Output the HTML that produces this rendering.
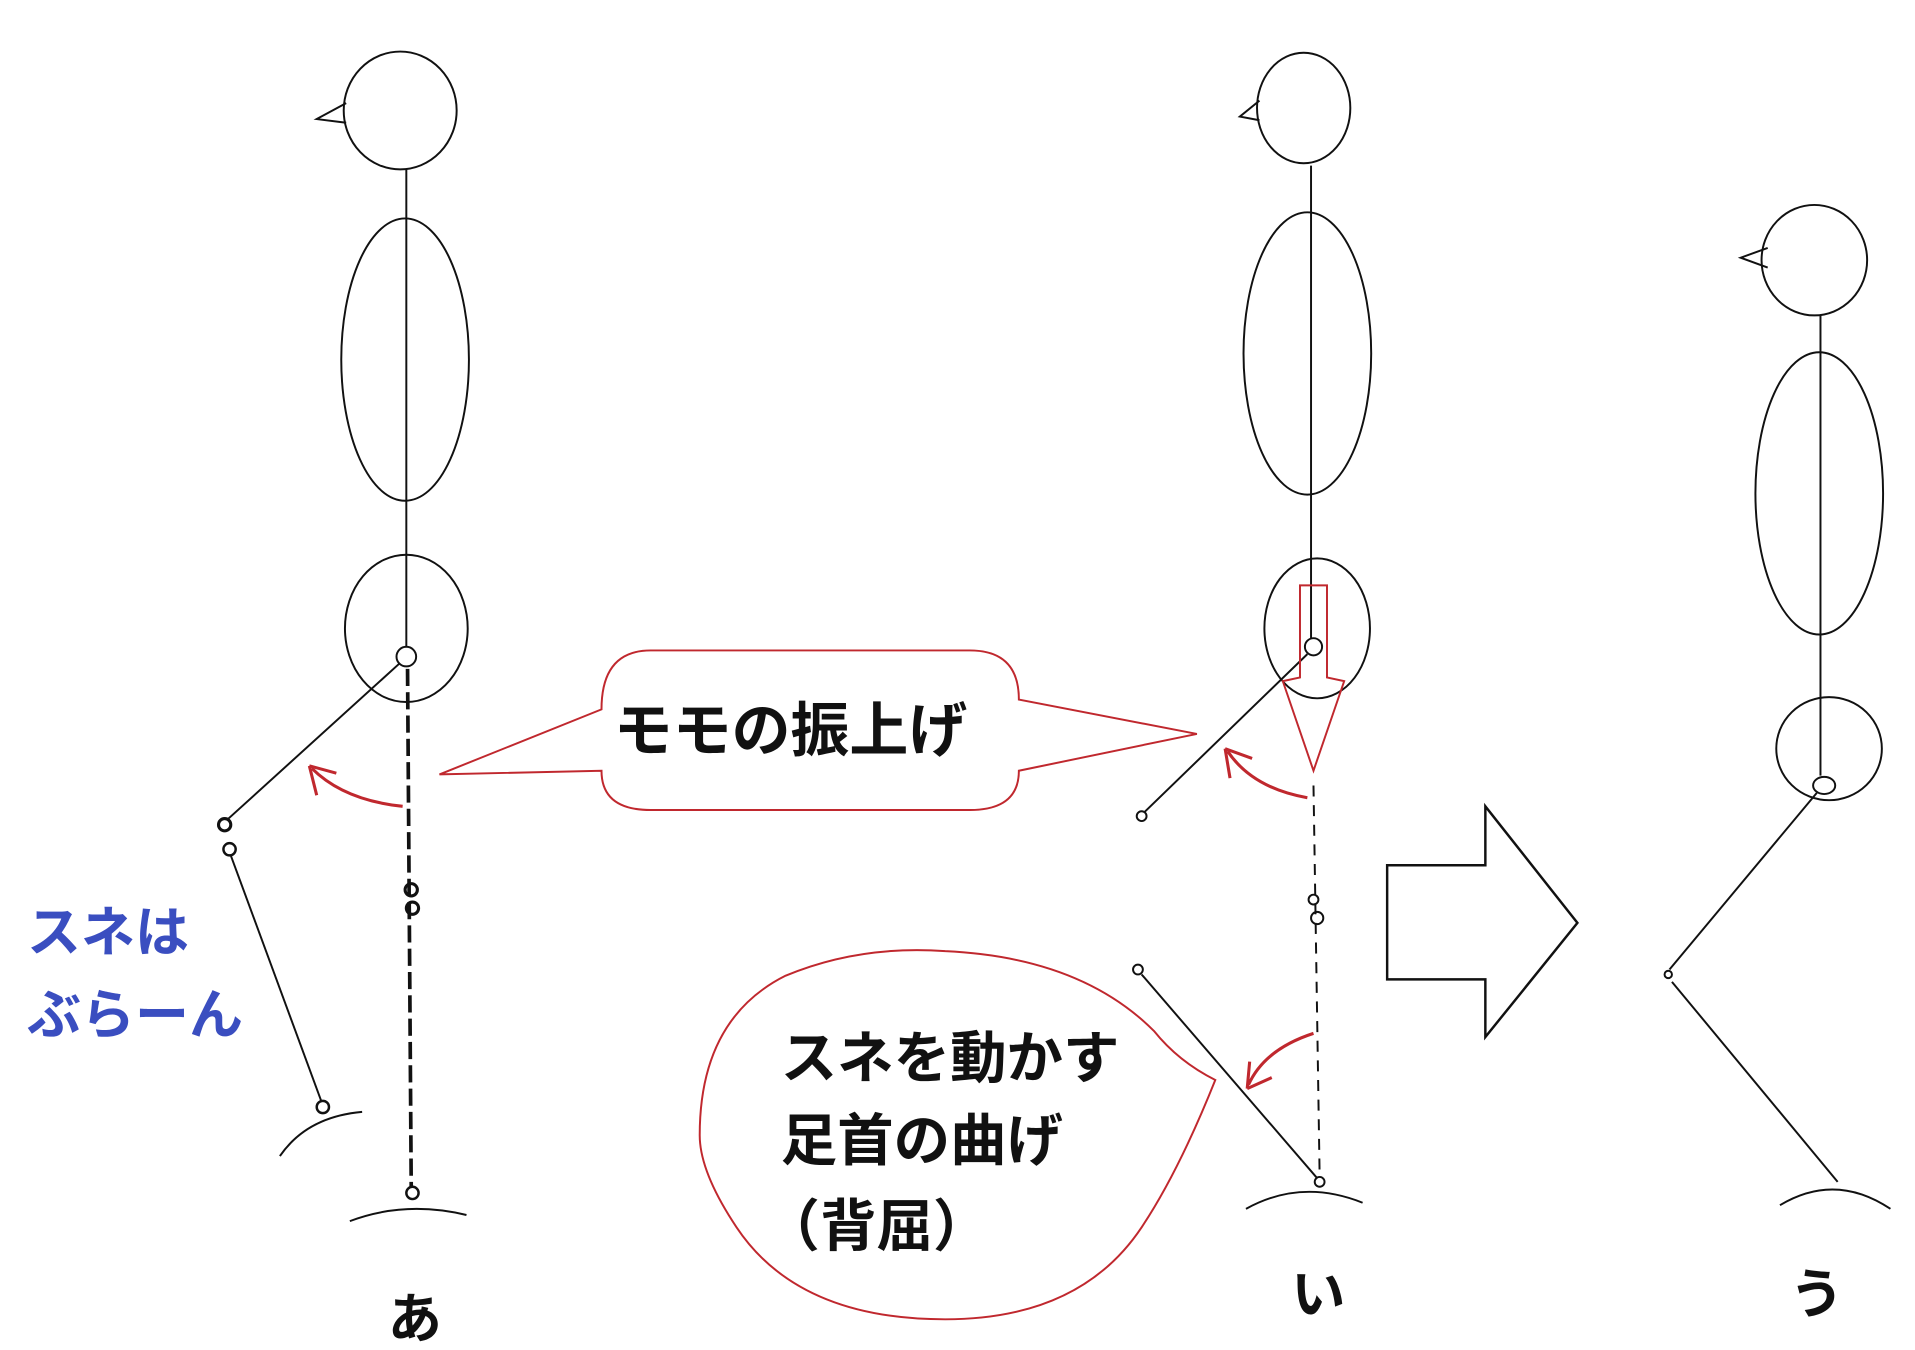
<!DOCTYPE html>
<html><head><meta charset="utf-8"><style>
html,body{margin:0;padding:0;background:#fff;}
svg{display:block;}
text{font-family:"Liberation Sans","Noto Sans CJK JP",sans-serif;font-weight:bold;}
</style></head><body>
<svg width="1915" height="1350" viewBox="0 0 1560 1100" preserveAspectRatio="none" xmlns="http://www.w3.org/2000/svg">
<g fill="none" stroke="#111" stroke-width="1.6">
<!-- Figure あ -->
<ellipse cx="326" cy="90" rx="46" ry="48"/>
<path d="M282 84 L258 97 L282 100"/>
<ellipse cx="330" cy="293" rx="52" ry="115"/>
<ellipse cx="331" cy="512" rx="50" ry="60"/>
<line x1="331" y1="138" x2="331" y2="527"/>
<circle cx="331" cy="535" r="8"/>
<line x1="325" y1="541" x2="185" y2="668"/>
<circle cx="183" cy="672" r="5" stroke-width="2.5"/>
<circle cx="187" cy="692" r="5" stroke-width="2"/>
<line x1="188" y1="697" x2="262" y2="898"/>
<circle cx="263" cy="902" r="5" stroke-width="2"/>
<path d="M228 942 Q250 910 295 906"/>
<line x1="332" y1="545" x2="335" y2="968" stroke-width="3" stroke-dasharray="14 5"/>
<circle cx="335" cy="725" r="5" stroke-width="2.5"/>
<circle cx="336" cy="740" r="5" stroke-width="2.5"/>
<circle cx="336" cy="972" r="5" stroke-width="2"/>
<path d="M285 995 Q330 978 380 990"/>
<!-- Figure い -->
<ellipse cx="1062" cy="88" rx="38" ry="45"/>
<path d="M1026 82 L1010 95 L1026 98"/>
<ellipse cx="1065" cy="288" rx="52" ry="115"/>
<ellipse cx="1073" cy="512" rx="43" ry="57"/>
<line x1="1068" y1="135" x2="1068" y2="520"/>
<circle cx="1070" cy="527" r="7"/>
<line x1="1065" y1="533" x2="932" y2="662"/>
<circle cx="930" cy="665" r="4"/>
<line x1="1070" y1="640" x2="1075" y2="958" stroke-dasharray="9 7"/>
<circle cx="1070" cy="733" r="4"/>
<circle cx="1073" cy="748" r="5"/>
<circle cx="927" cy="790" r="4"/>
<line x1="930" y1="794" x2="1073" y2="960"/>
<circle cx="1075" cy="963" r="4"/>
<path d="M1015 985 Q1060 960 1110 980"/>
<!-- Figure う -->
<ellipse cx="1478" cy="212" rx="43" ry="45"/>
<path d="M1440 202 L1418 210 L1440 218"/>
<ellipse cx="1482" cy="402" rx="52" ry="115"/>
<ellipse cx="1490" cy="610" rx="43" ry="42"/>
<line x1="1483" y1="257" x2="1483" y2="632"/>
<ellipse cx="1486" cy="640" rx="9" ry="7"/>
<line x1="1480" y1="646" x2="1360" y2="790"/>
<circle cx="1359" cy="794" r="3"/>
<line x1="1362" y1="800" x2="1497" y2="963"/>
<path d="M1450 982 Q1495 955 1540 985"/>
<!-- big arrow -->
<path d="M1130 705 L1210 705 L1210 657 L1285 752 L1210 845 L1210 798 L1130 798 Z" stroke-width="2"/>
</g>
<g fill="none" stroke="#c0282e" stroke-width="2.5">
<path d="M328 657 Q280 652 254 626"/>
<path d="M252 624 L258 648 M252 624 L274 630"/>
<path d="M1065 650 Q1020 642 1000 612"/>
<path d="M998 610 L1002 634 M998 610 L1020 618"/>
<path d="M1070 842 Q1030 855 1017 884"/>
<path d="M1016 887 L1018 865 M1016 887 L1036 878"/>
</g>
<g fill="#fff" stroke="#c0282e" stroke-width="1.6">
<path d="M1059 477 L1081 477 L1081 552 L1095 555 L1070 628 L1045 555 L1059 552 Z" fill="none"/>
<path d="M530 530 L790 530 Q830 530 830 570 L975 598 L830 628 Q830 660 790 660 L530 660 Q490 660 490 628 L358 631 L490 578 Q490 530 530 530 Z"/>
<path d="M940 840 Q960 865 990 880 Q960 955 930 1000 Q880 1075 770 1075 Q650 1075 600 1000 Q570 955 570 925 Q570 830 640 795 Q700 770 770 775 Q880 780 940 840 Z"/>
</g>
<text x="500" y="612" font-size="48" fill="#111">モモの振上げ</text>
<text x="636" y="878" font-size="46" fill="#111">スネを動かす</text>
<text x="636" y="945" font-size="46" fill="#111">足首の曲げ</text>
<text x="622" y="1015" font-size="46" fill="#111">（背屈）</text>
<text x="22" y="775" font-size="44" fill="#3a4ec0">スネは</text>
<text x="22" y="842" font-size="44" fill="#3a4ec0">ぶらーん</text>
<text x="316" y="1090" font-size="44" fill="#111">あ</text>
<text x="1052" y="1070" font-size="44" fill="#111">い</text>
<text x="1458" y="1070" font-size="44" fill="#111">う</text>
</svg>
</body></html>
